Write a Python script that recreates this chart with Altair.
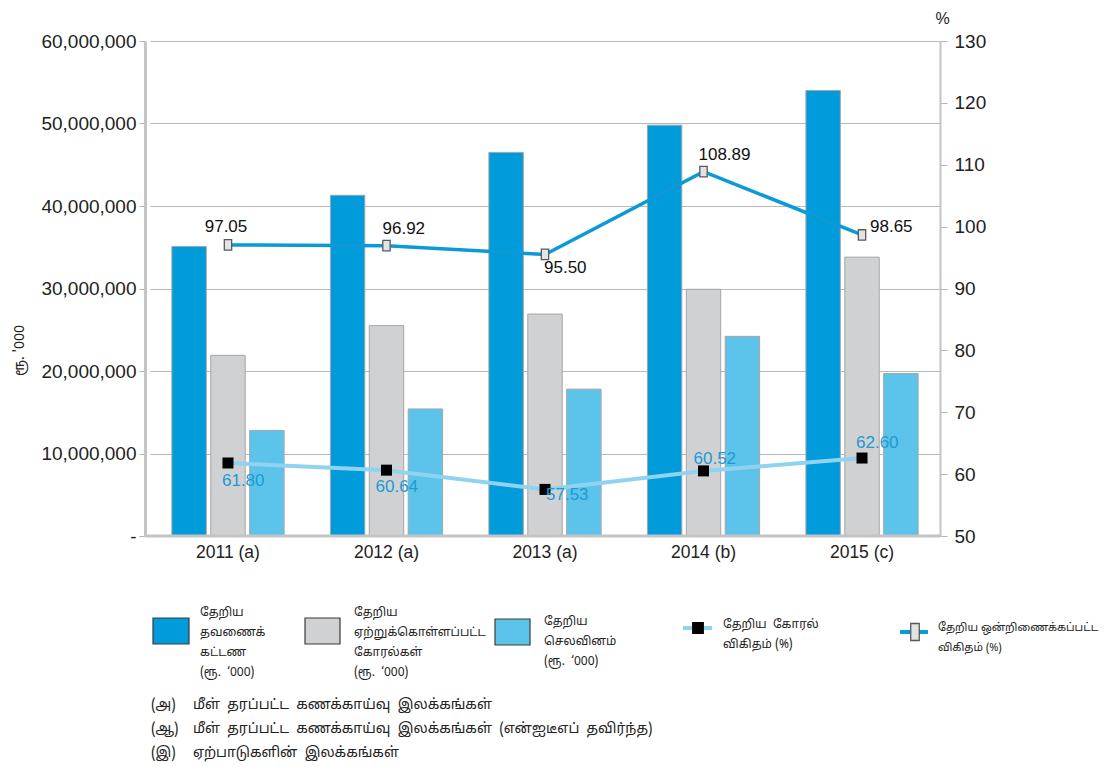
import altair as alt
import pandas as pd

# ---------------- data ----------------
years = ["2011 (a)", "2012 (a)", "2013 (a)", "2014 (b)", "2015 (c)"]
series_names = [
    "தேறிய தவணைக் கட்டண (ரூ. '000)",
    "தேறிய ஏற்றுக்கொள்ளப்பட்ட கோரல்கள் (ரூ. '000)",
    "தேறிய செலவினம் (ரூ. '000)",
]
net_installments = [35100000, 41300000, 46500000, 49800000, 54000000]
net_claims = [21900000, 25500000, 26900000, 29900000, 33800000]
net_expenses = [12800000, 15400000, 17800000, 24200000, 19700000]
claims_ratio = [61.80, 60.64, 57.53, 60.52, 62.60]
combined_ratio = [97.05, 96.92, 95.50, 108.89, 98.65]
left_ticks = [0, 10000000, 20000000, 30000000, 40000000, 50000000, 60000000]
right_ticks = [50, 60, 70, 80, 90, 100, 110, 120, 130]

SP = "\u00a0\u00a0"
legend_texts = [
    "தேறிய\nதவணைக்\nகட்டண\n(ரூ." + SP + "‘000)",
    "தேறிய\nஏற்றுக்கொள்ளப்பட்ட\nகோரல்கள்\n(ரூ." + SP + "‘000)",
    "தேறிய\nசெலவினம்\n(ரூ." + SP + "‘000)",
    "தேறிய" + SP + "கோரல்\nவிகிதம் (%)",
    "தேறிய ஒன்றிணைக்கப்பட்ட\nவிகிதம் (%)",
]
note_marks = ["(அ)", "(ஆ)", "(இ)"]
note_texts = [
    SP.join(["மீள்", "தரப்பட்ட", "கணக்காய்வு", "இலக்கங்கள்"]),
    SP.join(["மீள்", "தரப்பட்ட", "கணக்காய்வு", "இலக்கங்கள்", "(என்ஐடீஎப்", "தவிர்ந்த)"]),
    SP.join(["ஏற்பாடுகளின்", "இலக்கங்கள்"]),
]

# ---------------- styles ----------------
BAR_COLORS = ["#009bdb", "#d0d1d3", "#5cc4eb"]
UPPER_LINE = "#0b9ad8"
LOWER_LINE = "#8fd3f1"
LOWER_LABEL = "#1b9ad6"
FONT = "Liberation Sans"
TAMIL_FONT = "Noto Sans Tamil, Lohit Tamil, Noto Sans"
TEXT_COLOR = "#222222"

bar_rows = []
for s, vals in zip(series_names, [net_installments, net_claims, net_expenses]):
    for y, v in zip(years, vals):
        bar_rows.append({"year": y, "series": s, "value": v})
bar_df = pd.DataFrame(bar_rows)

line_df = pd.DataFrame({"year": years, "claims": claims_ratio, "combined": combined_ratio})

W, H = 795, 495

x_enc = alt.X(
    "year:N",
    sort=years,
    title=None,
    scale=alt.Scale(range=[5, W], paddingInner=0.292, paddingOuter=0.138),
    axis=alt.Axis(
        ticks=False,
        domain=False,
        labelFont=FONT,
        labelFontSize=17.5,
        labelColor=TEXT_COLOR,
        labelPadding=7,
        labelAngle=0,
        grid=False,
    ),
)

left_axis = alt.Axis(
    values=left_ticks,
    labelExpr="datum.value == 0 ? '-' : format(datum.value, ',')",
    grid=True,
    gridColor="#b9b9b9",
    gridWidth=1,
    domainColor="#c4c4c4",
    domainWidth=3,
    tickColor="#b5b5b5",
    tickSize=6,
    labelFont=FONT,
    labelFontSize=19,
    labelColor=TEXT_COLOR,
    labelPadding=3,
    title="ரூ. '000",
    titleFont=TAMIL_FONT,
    titleFontSize=14,
    titleFontWeight="normal",
    titleColor=TEXT_COLOR,
    titleX=-126,
    titleY=309,
    titleAngle=270,
    titleAlign="center",
    titleBaseline="middle",
)

right_axis = alt.Axis(
    orient="right",
    values=right_ticks,
    grid=False,
    domainColor="#c4c4c4",
    domainWidth=2,
    tickColor="#b5b5b5",
    tickSize=7,
    labelFont=FONT,
    labelFontSize=19,
    labelColor=TEXT_COLOR,
    labelPadding=7,
    title="%",
    titleFont=FONT,
    titleFontSize=16,
    titleFontWeight="normal",
    titleColor=TEXT_COLOR,
    titleX=2,
    titleY=-23,
    titleAngle=0,
    titleAlign="center",
    titleBaseline="middle",
)

bars = alt.Chart(bar_df).mark_bar(stroke="#a5a5a5", strokeWidth=1).encode(
    x=x_enc,
    xOffset=alt.XOffset(
        "series:N", sort=series_names, scale=alt.Scale(paddingInner=0.115, paddingOuter=0)
    ),
    y=alt.Y("value:Q", scale=alt.Scale(domain=[0, 60000000], nice=False), axis=left_axis),
    color=alt.Color(
        "series:N", scale=alt.Scale(domain=series_names, range=BAR_COLORS), legend=None
    ),
)

pct_scale = alt.Scale(domain=[50, 130], nice=False)


def y_pct(field):
    return alt.Y(f"{field}:Q", scale=pct_scale, axis=right_axis)


upper_line = alt.Chart(line_df).mark_line(color=UPPER_LINE, strokeWidth=3.5).encode(
    x=x_enc, y=y_pct("combined")
)
lower_line = alt.Chart(line_df).mark_line(color=LOWER_LINE, strokeWidth=4).encode(
    x=x_enc, y=y_pct("claims")
)
RECT_SHAPE = "M-0.7,-1L0.7,-1L0.7,1L-0.7,1Z"
upper_pts = alt.Chart(line_df).mark_point(
    shape=RECT_SHAPE, size=110, filled=True, fill="#e3e3e3", stroke="#5a5a5a",
    strokeWidth=1.3, opacity=1,
).encode(x=x_enc, y=y_pct("combined"))
lower_pts = alt.Chart(line_df).mark_point(
    shape="square", size=121, filled=True, color="#000000", opacity=1
).encode(x=x_enc, y=y_pct("claims"))


def label_layer(field, yrs, color, align, dx, dy):
    return (
        alt.Chart(line_df)
        .transform_filter(alt.FieldOneOfPredicate(field="year", oneOf=yrs))
        .mark_text(
            font=FONT, fontSize=17, color=color, align=align, baseline="middle", dx=dx, dy=dy
        )
        .encode(x=x_enc, y=y_pct(field), text=alt.Text(f"{field}:Q", format=".2f"))
    )


labels = [
    label_layer("combined", [years[0]], "#111111", "center", -2, -18),
    label_layer("combined", [years[1]], "#111111", "left", -4, -17),
    label_layer("combined", [years[2]], "#111111", "left", -1, 14),
    label_layer("combined", [years[3]], "#111111", "left", -5, -17),
    label_layer("combined", [years[4]], "#111111", "left", 8, -8),
    label_layer("claims", [years[0]], LOWER_LABEL, "left", -6, 18),
    label_layer("claims", [years[1]], LOWER_LABEL, "left", -11, 17),
    label_layer("claims", [years[2]], LOWER_LABEL, "left", 1, 6),
    label_layer("claims", [years[3]], LOWER_LABEL, "left", -10, -12),
    label_layer("claims", [years[4]], LOWER_LABEL, "left", -6, -15),
]

bar_group = alt.layer(bars)
line_group = alt.layer(lower_line, upper_line, lower_pts, upper_pts, *labels)

# ---------------- custom legend & notes (pixel placement in plot coords) ----------------
OX, OY = 145, 41  # plot origin in page coordinates


def one_row():
    return pd.DataFrame({"k": [0]})


bottom_line = alt.Chart(one_row()).mark_rule(color="#c4c4c4", strokeWidth=3).encode(
    x=alt.value(0), x2=alt.value(W), y=alt.value(H)
)


def swatch(x0, x1, y0, y1, color):
    return alt.Chart(one_row()).mark_rect(
        color=color, stroke="#3a3a3a", strokeWidth=1.2
    ).encode(
        x=alt.value(x0 - OX), x2=alt.value(x1 - OX), y=alt.value(y0 - OY), y2=alt.value(y1 - OY)
    )


def text_block(x, y_top, txt, size=12, lh=20):
    return alt.Chart(one_row()).mark_text(
        align="left", baseline="top", lineBreak="\n", lineHeight=lh,
        font=TAMIL_FONT, fontSize=size, color=TEXT_COLOR,
    ).encode(x=alt.value(x - OX), y=alt.value(y_top - OY), text=alt.value(txt))


def leg_line(x0, x1, y, color, width):
    return alt.Chart(one_row()).mark_rule(color=color, strokeWidth=width).encode(
        x=alt.value(x0 - OX), x2=alt.value(x1 - OX), y=alt.value(y - OY)
    )


def leg_point(x, y, shape, size, fill, stroke):
    return alt.Chart(one_row()).mark_point(
        shape=shape, size=size, filled=True, fill=fill, stroke=stroke, strokeWidth=1.3, opacity=1
    ).encode(x=alt.value(x - OX), y=alt.value(y - OY))


legend_layers = [
    swatch(153, 189, 618, 644, BAR_COLORS[0]),
    text_block(200, 607, legend_texts[0]),
    swatch(305, 340, 618, 644, BAR_COLORS[1]),
    text_block(354, 607, legend_texts[1]),
    swatch(495, 530, 619, 645, BAR_COLORS[2]),
    text_block(544, 616, legend_texts[2]),
    leg_line(683, 712, 628, LOWER_LINE, 4),
    leg_point(698, 628, "square", 110, "#000000", "#000000"),
    text_block(723, 619, legend_texts[3]),
    leg_line(900, 928, 632, UPPER_LINE, 4),
    leg_point(915, 632, "M-0.5,-1L0.5,-1L0.5,1L-0.5,1Z", 290, "#e3e3e3", "#5a5a5a"),
    text_block(938, 622, legend_texts[4], size=11),
]
for i, (m, t) in enumerate(zip(note_marks, note_texts)):
    yy = 698 + 24 * i
    legend_layers.append(text_block(151, yy, m, size=14))
    legend_layers.append(text_block(193, yy, t, size=14))

chart = (
    alt.layer(bar_group, line_group, bottom_line, *legend_layers)
    .resolve_scale(y="independent")
    .properties(
        width=W,
        height=H,
        autosize=alt.AutoSizeParams(type="none"),
        padding={"left": 137, "top": 33, "right": 172, "bottom": 226},
        background="#ffffff",
    )
    .configure_view(stroke=None)
)

chart.save("out.html", embed_options={"renderer": "svg", "actions": False})
